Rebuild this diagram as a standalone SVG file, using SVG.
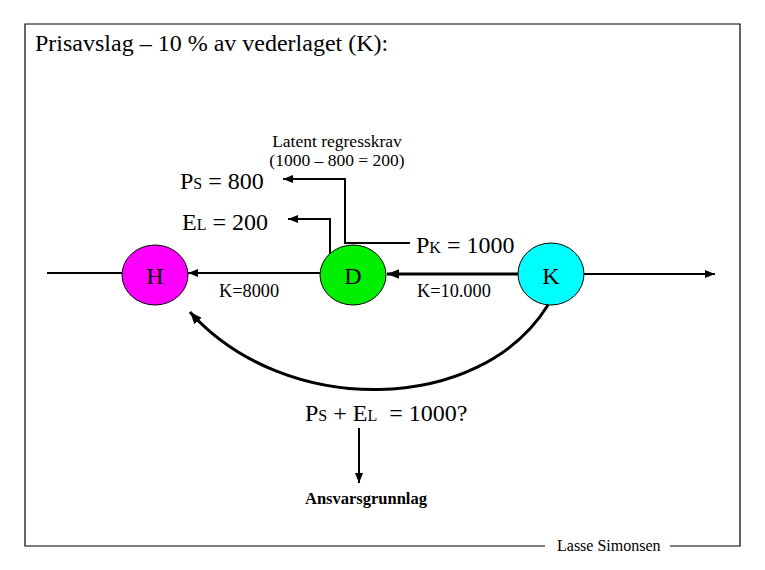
<svg xmlns="http://www.w3.org/2000/svg" width="765" height="570" viewBox="0 0 765 570" font-family="'Liberation Serif', 'DejaVu Serif', serif">
<style>
text{font-family:'Liberation Serif','DejaVu Serif',serif;fill:#000}
.big{font-size:24px}
.sub{font-size:16px}
.mid{font-size:18.3px}
.sm{font-size:17.5px}
.node{stroke:#000;stroke-width:1}
.ln{fill:none;stroke:#000;stroke-width:2}
</style>
<defs>
<marker id="ah" viewBox="0 0 10 10" refX="10" refY="5" markerWidth="5" markerHeight="5" orient="auto" markerUnits="strokeWidth">
<path d="M0,1 L10,5 L0,9 Z" fill="#000"/>
</marker>
<marker id="ah2" viewBox="0 0 10 10" refX="10" refY="5" markerWidth="4" markerHeight="4" orient="auto" markerUnits="strokeWidth">
<path d="M0,1 L10,5 L0,9 Z" fill="#000"/>
</marker>
</defs>
<rect width="765" height="570" fill="#fff"/>
<g id="frame">
<path d="M545,546 L25,546 L25,24 L740,24 L740,546 L670,546" fill="none" stroke="#000" stroke-width="1.2"/>
<text x="557" y="551" style="font-size:16px">Lasse Simonsen</text>
</g>
<text x="35" y="51" style="font-size:24px">Prisavslag – 10 % av vederlaget (K):</text>
<g id="connectors">
<line x1="47" y1="273" x2="122" y2="273" class="ln"/>
<line x1="320" y1="273" x2="188" y2="273" class="ln" marker-end="url(#ah)"/>
<line x1="518" y1="274" x2="387" y2="274" class="ln" marker-end="url(#ah2)" style="stroke-width:3"/>
<line x1="584" y1="274" x2="715" y2="274" class="ln" marker-end="url(#ah)"/>
<polyline points="330,256 330,219 288,219" class="ln" marker-end="url(#ah)"/>
<polyline points="410,243 345,243 345,179 283,179" class="ln" marker-end="url(#ah)"/>
<path d="M548,305 C480,415 285,418 190,312" class="ln" style="stroke-width:3" marker-end="url(#ah2)"/>
<line x1="359" y1="428" x2="359" y2="483" class="ln" marker-end="url(#ah)"/>
</g>
<g id="H">
<ellipse cx="155" cy="275" rx="33" ry="30" fill="#ff00ff" class="node"/>
<text x="155" y="284" class="big" text-anchor="middle">H</text>
</g>
<g id="D">
<ellipse cx="353" cy="275" rx="33" ry="30" fill="#00ee00" class="node"/>
<text x="353" y="284" class="big" text-anchor="middle">D</text>
</g>
<g id="K">
<ellipse cx="551" cy="274" rx="33" ry="31" fill="#00ffff" class="node"/>
<text x="551" y="284" class="big" text-anchor="middle">K</text>
</g>
<g id="labels">
<text x="337" y="147" class="sm" text-anchor="middle">Latent regresskrav</text>
<text x="337" y="166" class="sm" text-anchor="middle">(1000 – 800 = 200)</text>
<text x="180" y="189" class="big">P<tspan class="sub">S</tspan> = 800</text>
<text x="182" y="230" class="big">E<tspan class="sub">L</tspan> = 200</text>
<text x="416" y="253" class="big">P<tspan class="sub">K</tspan> = 1000</text>
<text x="219" y="297" class="mid">K=8000</text>
<text x="417" y="297" class="mid">K=10.000</text>
<text x="305" y="421" class="big" xml:space="preserve">P<tspan class="sub">S</tspan> + E<tspan class="sub">L</tspan>  = 1000?</text>
<text x="305" y="504" style="font-weight:bold;font-size:16.5px">Ansvarsgrunnlag</text>
</g>
</svg>
